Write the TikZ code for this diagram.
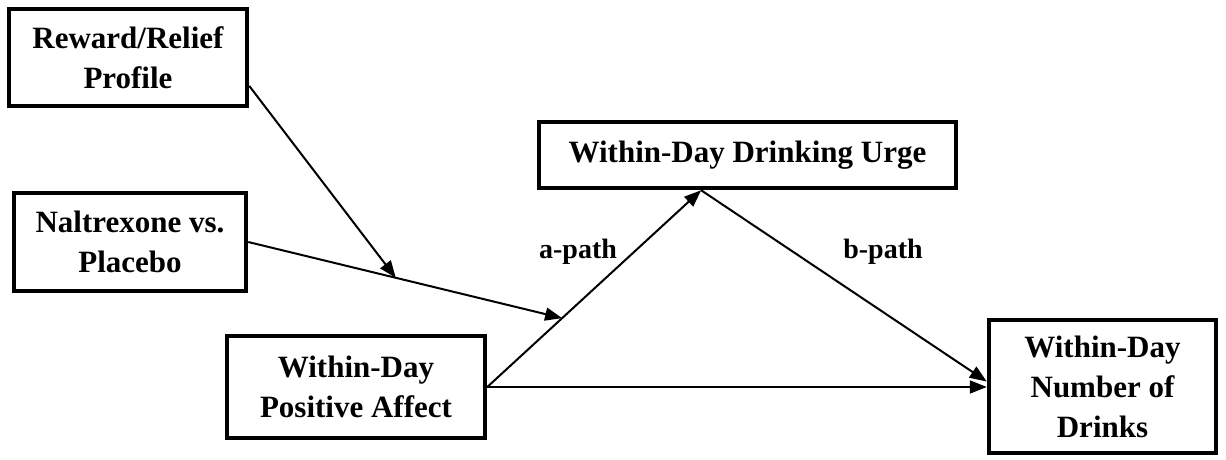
\documentclass[tikz,border=0pt]{standalone}
\usepackage{fontspec}
\setmainfont{Liberation Serif}
\usepackage{tikz}
\usetikzlibrary{arrows.meta,calc}

\begin{document}
\begin{tikzpicture}[
  x=1pt, y=-1pt,
  box/.style={
    rectangle, draw=black, fill=white, line width=4.5pt,
    inner sep=0pt, align=center,
    font=\bfseries\fontsize{31}{40}\selectfont
  },
  lbl/.style={font=\bfseries\fontsize{28}{34}\selectfont},
  arr/.style={-{Triangle[length=17pt,width=13pt]}, line width=2pt},
]
\useasboundingbox (0,0) rectangle (1226,459);

%% ── Boxes ─────────────────────────────────────────────────────────
\node[box, minimum width=238pt, minimum height=97pt]  (reward)  at (128,57.5)
      {Reward/Relief\\Profile};
\node[box, minimum width=232pt, minimum height=98pt]  (naltrex) at (130,242)
      {Naltrexone vs.\\Placebo};
\node[box, minimum width=258pt, minimum height=102pt] (affect)  at (356,387)
      {Within-Day\\Positive Affect};
\node[box, minimum width=417pt, minimum height=66pt]  (urge)    at (747.5,155)
      {Within-Day Drinking Urge};
\node[box, minimum width=227pt, minimum height=133pt] (drinks)  at (1102.5,386.5)
      {Within-Day\\Number of\\Drinks};

%% ── Connector points ─────────────────────────────────────────────
\coordinate (urgein)  at ($(urge.south west)!0.39!(urge.south east)$);
\coordinate (amid)    at ($(affect.east)!0.35!(urgein)$);
\coordinate (rewout)  at ($(reward.north east)!0.78!(reward.south east)$);
\coordinate (naltmid) at ($(naltrex.east)!0.47!(amid)$);
\coordinate (drinksb) at ([yshift=5pt]drinks.west);

%% ── Paths ────────────────────────────────────────────────────────
\draw[arr] (affect.east) -- (urgein);
\draw[arr] (urgein)      -- (drinksb);
\draw[arr] (affect.east) -- (affect.east -| drinks.west);

%% ── Moderators ───────────────────────────────────────────────────
\draw[arr] (naltrex.east) -- (amid);
\draw[arr] (rewout)       -- (naltmid);

%% ── Path labels ──────────────────────────────────────────────────
\node[lbl] (alabel) at (578,252) {a-path};
\node[lbl] (blabel) at (883,252) {b-path};

\end{tikzpicture}
\end{document}
